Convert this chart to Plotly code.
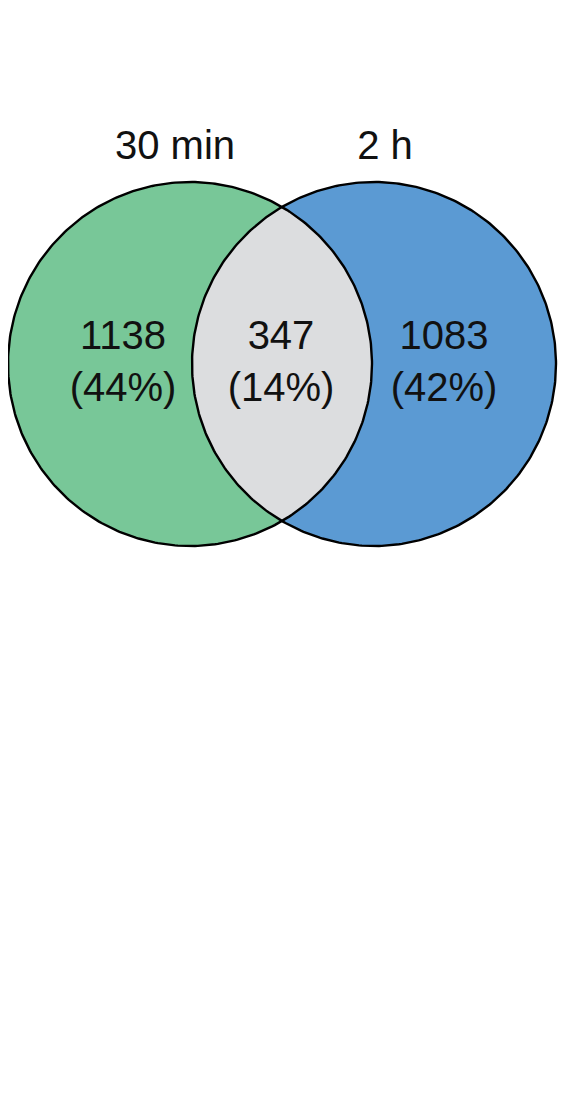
import numpy as np
import plotly.graph_objects as go

# venn data: two timepoints and their overlap
set_names = ["30 min", "2 h"]
region_counts = [1138, 347, 1083]
region_pcts = [44, 14, 42]

# geometry (pixel-like units, y grows downward)
cx_left, cx_right, cy, r = 190, 374, 364, 182
name_x = [175, 385]
name_y = 149
region_x = [123, 281, 444]
count_y = 339
pct_y = 391

green = "#78C798"
blue = "#5B9AD3"
grey = "#DCDDDF"

t = np.linspace(0, 2 * np.pi, 400)


def circle(cx):
    return cx + r * np.cos(t), cy + r * np.sin(t)


# lens = intersection of the two circles
xm = (cx_left + cx_right) / 2
h = np.sqrt(r ** 2 - (xm - cx_left) ** 2)
a = np.arctan2(h, xm - cx_left)
a1 = np.linspace(-a, a, 200)              # right arc of left circle
a2 = np.linspace(np.pi - a, np.pi + a, 200)  # left arc of right circle
lens_x = np.concatenate([cx_left + r * np.cos(a1), cx_right + r * np.cos(a2)])
lens_y = np.concatenate([cy + r * np.sin(a1), cy + r * np.sin(a2)])

fig = go.Figure()

for cx, col in [(cx_left, green), (cx_right, blue)]:
    x, y = circle(cx)
    fig.add_trace(go.Scatter(x=x, y=y, fill="toself", fillcolor=col,
                             mode="lines", line=dict(width=0), hoverinfo="skip"))

fig.add_trace(go.Scatter(x=lens_x, y=lens_y, fill="toself", fillcolor=grey,
                         mode="lines", line=dict(width=0), hoverinfo="skip"))

for cx in [cx_left, cx_right]:
    x, y = circle(cx)
    fig.add_trace(go.Scatter(x=x, y=y, mode="lines",
                             line=dict(color="black", width=2.4), hoverinfo="skip"))

txt_font = dict(family="Liberation Sans, Arial, sans-serif", size=40, color="#111111")

fig.add_trace(go.Scatter(x=name_x, y=[name_y] * 2, mode="text", text=set_names,
                         textfont=txt_font, textposition="middle center"))
fig.add_trace(go.Scatter(x=region_x, y=[count_y] * 3, mode="text",
                         text=[str(c) for c in region_counts],
                         textfont=txt_font, textposition="middle center"))
fig.add_trace(go.Scatter(x=region_x, y=[pct_y] * 3, mode="text",
                         text=["(%d%%)" % p for p in region_pcts],
                         textfont=txt_font, textposition="middle center"))

# page body has an 8px margin, so shift the ranges to line up with the picture
fig.update_layout(width=578, height=1109,
    margin=dict(l=0, r=0, t=0, b=0),
    paper_bgcolor="white", plot_bgcolor="white",
    showlegend=False)
fig.update_xaxes(range=[8, 586], visible=False, fixedrange=True)
fig.update_yaxes(range=[1117, 8], visible=False, fixedrange=True)

fig.write_html("out.html")
